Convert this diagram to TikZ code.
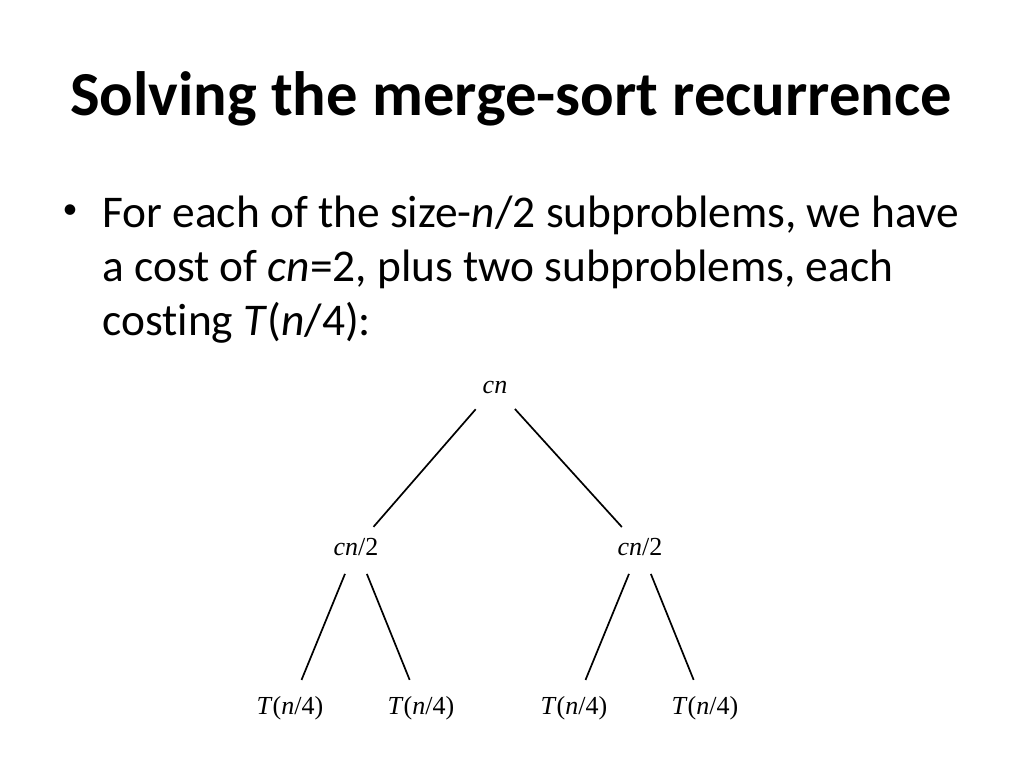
\documentclass[tikz,border=0pt]{standalone}
\usepackage{fontspec}
\setmainfont{Carlito}[Ligatures=NoCommon]
\newfontfamily\treefont{Liberation Serif}
\usetikzlibrary{positioning}

\begin{document}
\begin{tikzpicture}[x=0.5pt,y=-0.5pt,
      ttl/.style={font=\fontsize{31.3}{36}\selectfont\bfseries, anchor=base, inner sep=0pt},
      txt/.style={font=\fontsize{22.7}{27}\selectfont, anchor=base west, inner sep=0pt},
      lbl/.style={font=\treefont\fontsize{13}{15}\selectfont, inner sep=1pt},
      edge/.style={line width=0.85pt, shorten <=8.5pt, shorten >=6pt}
    ]
      \useasboundingbox[fill=white] (0,0) rectangle (1024,768);
      % Title
      \node[ttl] (title) at (511,115) {Solving the merge-sort recurrence};
      % Bullet text
      \node[font=\fontsize{15}{15}\selectfont, inner sep=0pt] (dot) at (70,212) {\textbullet};
      \node[txt] (line1) at (102,227)
        {For each of the size-\textit{n}/2 subproblems, we have};
      \node[txt] (line2) at (102,281)
        {a cost of \textit{cn}=2, plus two subproblems, each};
      \node[txt] (line3) at (102,335)
        {costing \textit{T}(\textit{n}/4):};
      % Tree: root and halves
      \node[lbl] (root) at (495,387) {\textit{cn}};
      \node[lbl] (half1) at (356,547) {\textit{cn}/2};
      \node[lbl] (half2) at (640,547) {\textit{cn}/2};
      % Tree: quarters
      \node[lbl] (q1) at (290,708) {\textit{T}(\textit{n}/4)};
      \node[lbl] (q2) at (421,708) {\textit{T}(\textit{n}/4)};
      \node[lbl] (q3) at (574,708) {\textit{T}(\textit{n}/4)};
      \node[lbl] (q4) at (705,708) {\textit{T}(\textit{n}/4)};
      % Edges
      \draw[edge, shorten <=9pt] (root) -- (half1);
      \draw[edge, shorten <=9pt] (root) -- (half2);
      \draw[edge, shorten >=7.5pt] (half1) -- (q1);
      \draw[edge, shorten >=7.5pt] (half1) -- (q2);
      \draw[edge, shorten >=7.5pt] (half2) -- (q3);
      \draw[edge, shorten >=7.5pt] (half2) -- (q4);
    \end{tikzpicture}
\end{document}
